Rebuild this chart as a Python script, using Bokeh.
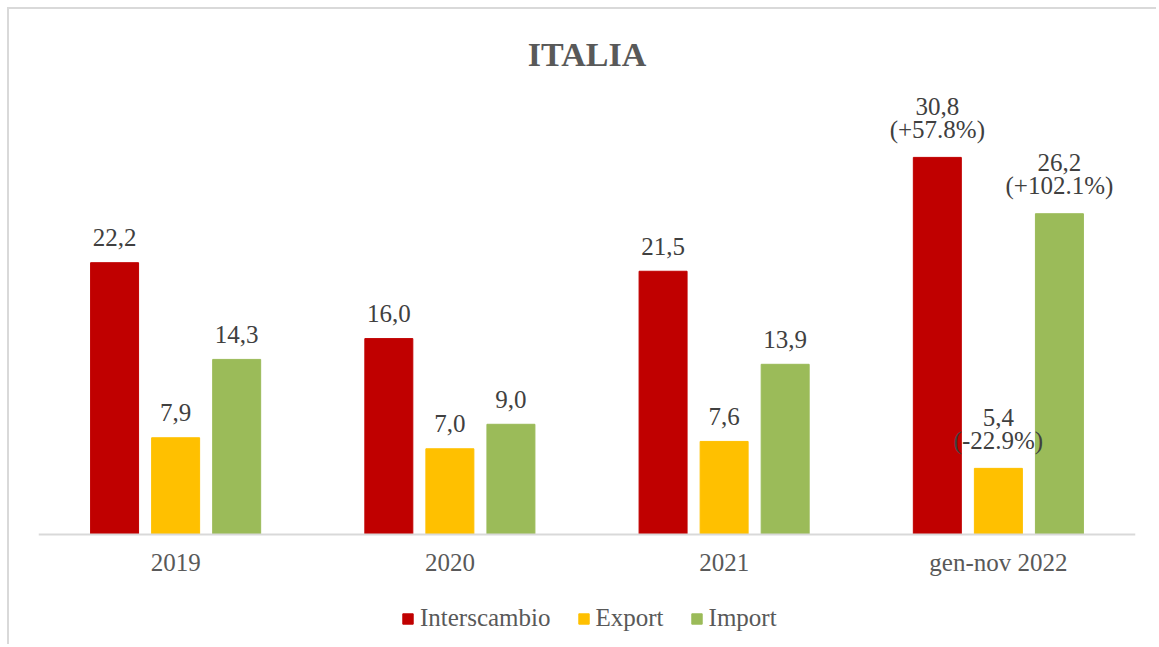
from bokeh.plotting import figure
from bokeh.models import ColumnDataSource, FactorRange, Range1d, Legend, LegendItem
from bokeh.transform import dodge
from bokeh.core.properties import value
from bokeh.embed import file_html
from bokeh.resources import INLINE

# ---- data ----
categories = ["2019", "2020", "2021", "gen-nov 2022"]
series_names = ["Interscambio", "Export", "Import"]
interscambio = [22.2, 16.0, 21.5, 30.8]
export = [7.9, 7.0, 7.6, 5.4]
import_vals = [14.3, 9.0, 13.9, 26.2]
pct_interscambio = ["", "", "", "(+57.8%)"]
pct_export = ["", "", "", "(-22.9%)"]
pct_import = ["", "", "", "(+102.1%)"]
series_colors = ["#C00000", "#FFC000", "#9BBB59"]

FONT = "Liberation Serif"
TXT = "#595959"
LBL = "#404040"

p = figure(
    x_range=FactorRange(factors=categories, range_padding=0),
    y_range=Range1d(-9.15, 37),
    width=1149, height=637,
    output_backend="svg", toolbar_location=None,
    min_border_left=29, min_border_right=23, min_border_top=72, min_border_bottom=0,
)
p.styles = {"margin": "7px 0px 0px 7px",
            "border-left": "2px solid #D9D9D9", "border-top": "2px solid #D9D9D9"}
p.title.text = "ITALIA"
p.title.align = "center"
p.title.text_font = FONT
p.title.text_font_size = "34px"
p.title.text_font_style = "bold"
p.title.text_color = TXT
p.title.standoff = 18
p.title.offset = 0

p.outline_line_color = None
p.grid.visible = False
p.yaxis.visible = False
p.xaxis.fixed_location = 0
p.xaxis.axis_line_color = "#D9D9D9"
p.xaxis.axis_line_width = 2
p.xaxis.major_tick_line_color = None
p.xaxis.minor_tick_line_color = None
p.xaxis.major_label_text_font = FONT
p.xaxis.major_label_text_font_size = "25px"
p.xaxis.major_label_text_color = TXT
p.xaxis.major_label_standoff = 9

offsets = [-0.2226, 0.0, 0.2226]
all_vals = [interscambio, export, import_vals]
all_pcts = [pct_interscambio, pct_export, pct_import]
items = []
sources = []
for name, vals, pcts, col, off in zip(series_names, all_vals, all_pcts, series_colors, offsets):
    labels = [f"{v:.1f}".replace(".", ",") for v in vals]
    lab_off = [-51 if pc else -25 for pc in pcts]
    src = ColumnDataSource(dict(x=categories, y=vals, label=labels, pct=pcts, loff=lab_off))
    r = p.vbar(x=dodge("x", off, range=p.x_range), top="y", width=0.175, source=src,
               fill_color=col, line_color=col)
    items.append(LegendItem(label=name, renderers=[r]))
    sources.append((src, off))

for src, off in sources:
    p.text(x=dodge("x", off, range=p.x_range), y="y", text="label", source=src,
           y_offset="loff", text_align="center", text_baseline="alphabetic",
           text_font=value(FONT), text_font_size="25px", text_color=LBL)
    p.text(x=dodge("x", off, range=p.x_range), y="y", text="pct", source=src,
           y_offset=-28, text_align="center", text_baseline="alphabetic",
           text_font=value(FONT), text_font_size="25px", text_color=LBL)

legend = Legend(items=items, orientation="horizontal", location=(363, 14))
legend.label_text_font = FONT
legend.label_text_font_size = "25px"
legend.label_text_color = TXT
legend.glyph_width = 13
legend.glyph_height = 13
legend.label_standoff = 6
legend.spacing = 26
legend.border_line_color = None
legend.background_fill_alpha = 0
legend.margin = 0
legend.padding = 0
p.add_layout(legend, "center")

open("out.html", "w").write(file_html(p, INLINE))
